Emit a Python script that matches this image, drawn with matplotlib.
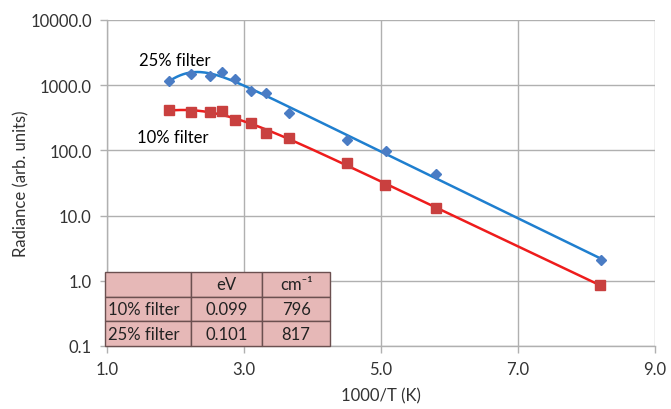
import numpy as np
import matplotlib
matplotlib.use("Agg")
import matplotlib.pyplot as plt
from matplotlib.ticker import FixedLocator, FixedFormatter

plt.rcParams['font.family'] = ['Lato', 'DejaVu Sans']

# Measured radiance versus inverse temperature
inv_t_25 = [1.90, 2.22, 2.50, 2.68, 2.87, 3.10, 3.32, 3.66, 4.50, 5.07, 5.80, 8.21]
rad_25 = [1170, 1490, 1400, 1580, 1250, 825, 750, 375, 145, 97, 43.5, 2.1]

inv_t_10 = [1.90, 2.22, 2.50, 2.68, 2.87, 3.10, 3.32, 3.66, 4.50, 5.06, 5.80, 8.20]
rad_10 = [420, 384, 384, 398, 296, 263, 185, 155, 64, 29.5, 12.9, 0.87]

x_ticks = [1.0, 3.0, 5.0, 7.0, 9.0]
y_ticks = [0.1, 1.0, 10.0, 100.0, 1000.0, 10000.0]

table_cols = ["", "eV", "cm⁻¹"]
table_rows = [["10% filter", "0.099", "796"],
              ["25% filter", "0.101", "817"]]

FS = 12


def fit_curve(x, y):
    """Least-squares fit of log10(y) = a - b*x - log10(1 + exp(d*(x0 - x)))."""
    x = np.asarray(x, float)
    ly = np.log10(np.asarray(y, float))
    best = None
    A = np.column_stack([np.ones_like(x), -x])
    for d in np.linspace(0.3, 8.0, 160):
        for x0 in np.linspace(-2.0, 5.0, 141):
            t = np.log10(1.0 + np.exp(d * (x0 - x)))
            coef, *_ = np.linalg.lstsq(A, ly + t, rcond=None)
            r = np.sum((A @ coef - t - ly) ** 2)
            if best is None or r < best[0]:
                best = (r, coef, d, x0)
    _, (a, b), d, x0 = best
    xs = np.linspace(x.min(), x.max(), 300)
    ys = 10 ** (a - b * xs - np.log10(1.0 + np.exp(d * (x0 - xs))))
    return xs, ys


fig = plt.figure(figsize=(6.71, 4.10), dpi=100)
ax = fig.add_axes([0.1595, 0.1537, 0.8165, 0.7951])

grid_c = "#b0b0b0"
ax.set_yscale("log")
ax.set_xlim(1.0, 9.0)
ax.set_ylim(0.1, 10000.0)

for xv in x_ticks:
    ax.axvline(xv, color=grid_c, lw=1.0, zorder=0)
for yv in y_ticks:
    ax.axhline(yv, color=grid_c, lw=1.0, zorder=0)

xs25, ys25 = fit_curve(inv_t_25, rad_25)
xs10, ys10 = fit_curve(inv_t_10, rad_10)

ax.plot(xs25, ys25, color="#1f7fcf", lw=1.8, zorder=3)
ax.plot(xs10, ys10, color="#ee1c1c", lw=1.8, zorder=3)
ax.plot(inv_t_25, rad_25, ls="none", marker="D", ms=5.5, color="#4a7cc4", zorder=4)
ax.plot(inv_t_10, rad_10, ls="none", marker="s", ms=7, color="#c9403f", zorder=4)

ax.text(1.99, 2430, "25% filter", fontsize=FS, ha="center", va="center")
ax.text(1.96, 158, "10% filter", fontsize=FS, ha="center", va="center")

ax.xaxis.set_major_locator(FixedLocator(x_ticks))
ax.xaxis.set_major_formatter(FixedFormatter([f"{v:.1f}" for v in x_ticks]))
ax.yaxis.set_major_locator(FixedLocator(y_ticks))
ax.yaxis.set_major_formatter(FixedFormatter([f"{v:.1f}" for v in y_ticks]))
ax.yaxis.set_minor_locator(FixedLocator([]))
ax.tick_params(axis="both", labelsize=FS, colors="#333333", length=5,
               width=1.0, direction="out", pad=6)
ax.tick_params(axis="x", color=grid_c)
ax.tick_params(axis="y", color=grid_c)

for s in ["top", "right"]:
    ax.spines[s].set_visible(False)
for s in ["left", "bottom"]:
    ax.spines[s].set_color(grid_c)
    ax.spines[s].set_linewidth(1.0)

ax.set_xlabel("1000/T (K)", fontsize=FS, color="#333333", labelpad=7)
ax.set_ylabel("Radiance (arb. units)", fontsize=FS, color="#333333", labelpad=0.5)

tbl = ax.table(cellText=table_rows, colLabels=table_cols,
               cellLoc="center", bbox=[-0.003, 0.0, 0.41, 0.227],
               colWidths=[0.382, 0.316, 0.302])
tbl.auto_set_font_size(False)
for (r, c), cell in tbl.get_celld().items():
    cell.set_facecolor("#e6b8b7")
    cell.set_edgecolor("#6b5050")
    cell.set_linewidth(1.0)
    cell.get_text().set_fontsize(FS)
    cell.get_text().set_color("#222222")
    if c == 0 and r > 0:
        cell.get_text().set_ha("left")
        cell.PAD = 0.03
tbl.set_zorder(6)

fig.savefig("out.png", dpi=100)
